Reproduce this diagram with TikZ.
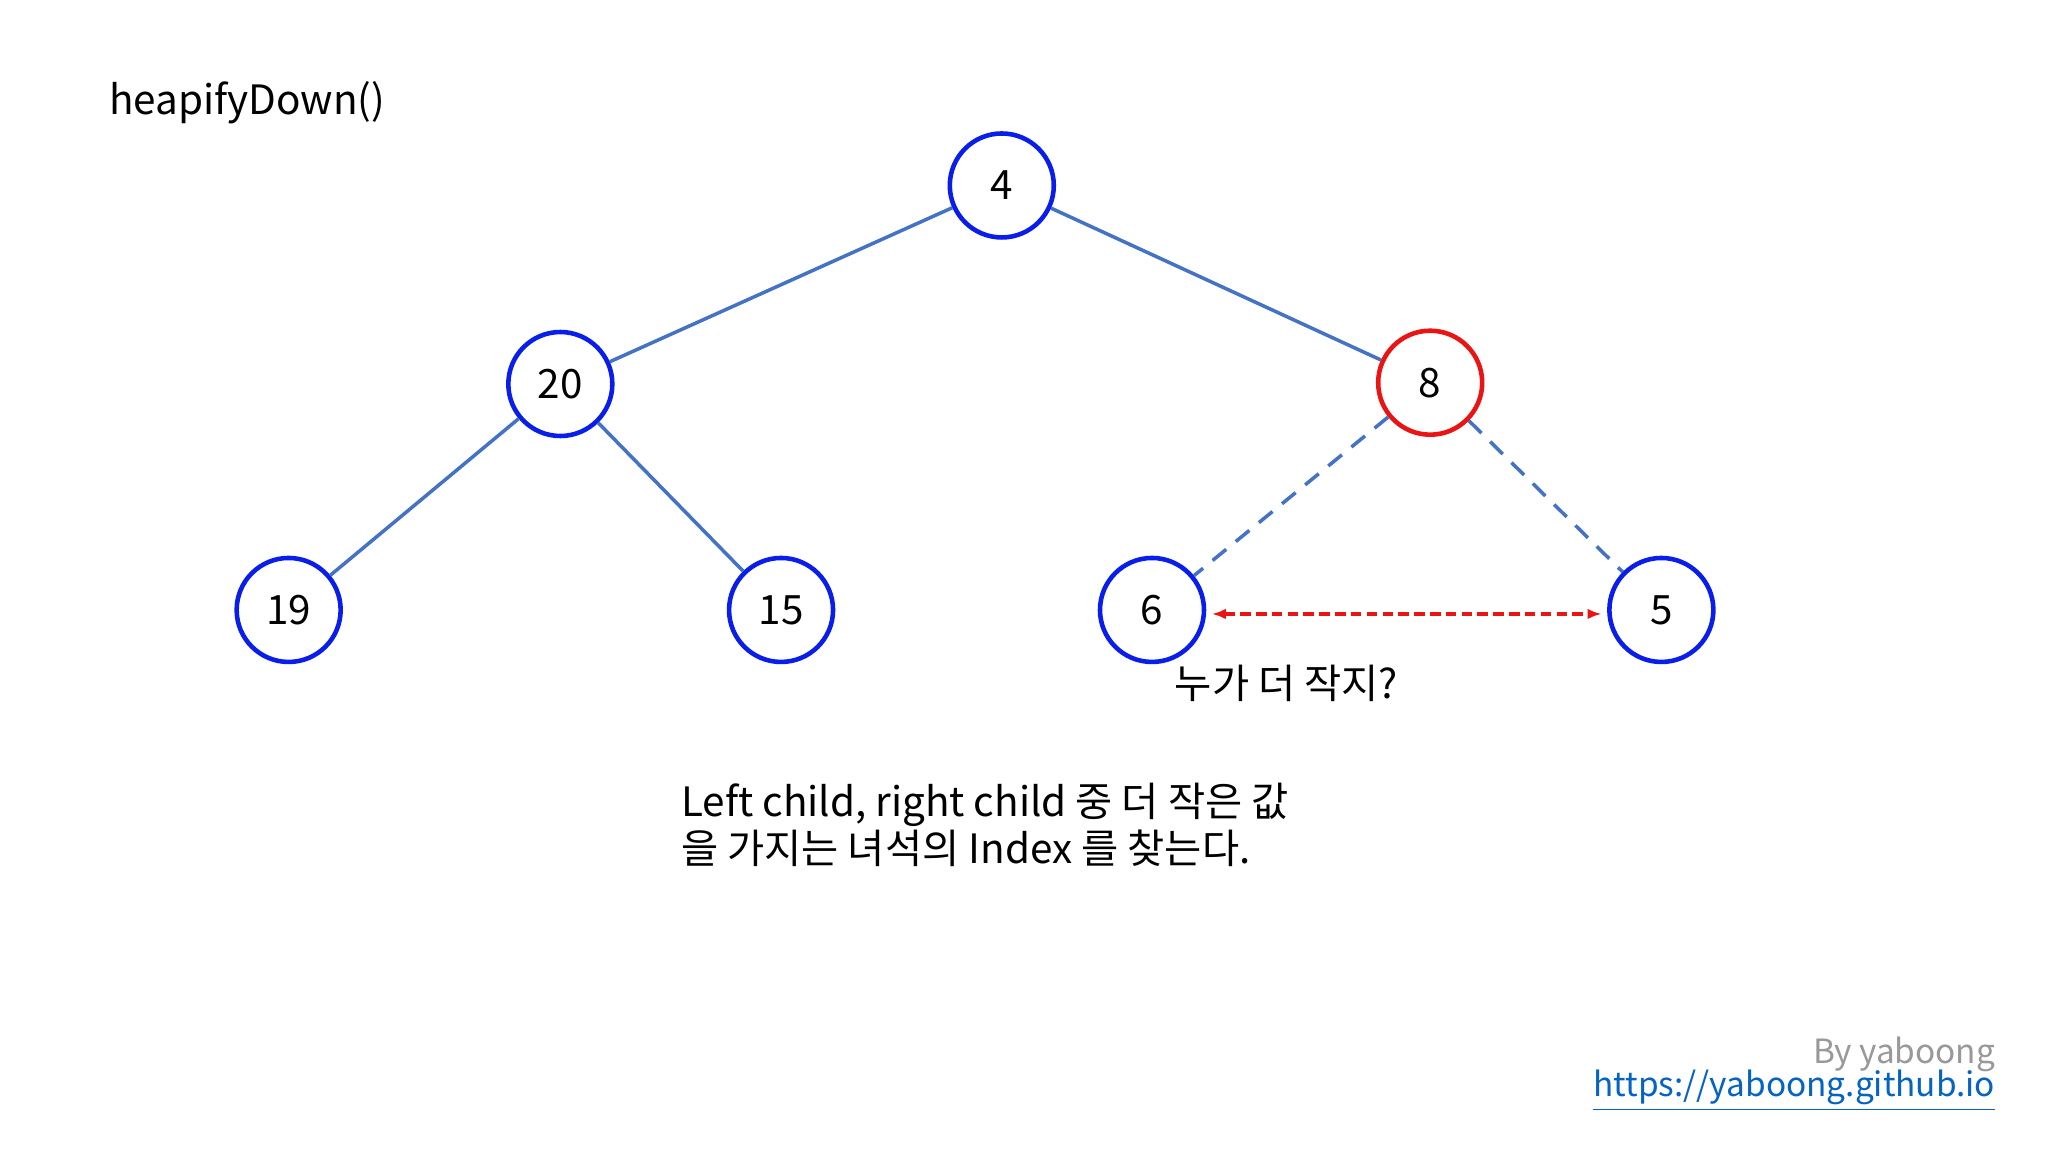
\documentclass[tikz,border=0pt]{standalone}
\usepackage{fontspec}
\setmainfont{Noto Sans CJK KR}
\usetikzlibrary{arrows.meta}
\definecolor{nodeblue}{RGB}{10,30,235}
\definecolor{edgeblue}{RGB}{68,114,196}
\definecolor{nodered}{RGB}{235,20,20}
\definecolor{linkblue}{RGB}{5,99,193}
\tikzset{
  hnode/.style={circle,draw=nodeblue,line width=1.3pt,minimum size=1.04cm,inner sep=0pt,font=\fontsize{11.5}{13}\selectfont},
  redn/.style={hnode,draw=nodered},
  edge/.style={draw=edgeblue,line width=1pt},
  dedge/.style={edge,dash pattern=on 5pt off 3.5pt},
}
\begin{document}
\begin{tikzpicture}[x=0.01306cm,y=-0.01306cm]
\useasboundingbox[fill=white] (0,0) rectangle (1568,882);
\node[anchor=west,font=\fontsize{11.5}{13}\selectfont] (title) at (74,79) {heapifyDown()};
\node[hnode] (n4) at (767,142) {4};
\node[hnode] (n20) at (429,294) {20};
\node[redn] (n8) at (1095,293) {8};
\node[hnode] (n19) at (221,467) {19};
\node[hnode] (n15) at (598,467) {15};
\node[hnode] (n6) at (882,467) {6};
\node[hnode] (n5) at (1272,467) {5};
\draw[edge] (n4) -- (n20);
\draw[edge] (n4) -- (n8);
\draw[edge] (n20) -- (n19);
\draw[edge] (n20) -- (n15);
\draw[dedge] (n8) -- (n6);
\draw[dedge] (n8) -- (n5);
\draw[nodered,line width=0.9pt,dash pattern=on 3pt off 1.5pt,{Latex[length=4pt]}-{Latex[length=4pt]},shorten <=17pt,shorten >=17pt] ([yshift=-0.04cm]n6.center) -- ([yshift=-0.04cm]n5.center);
\node[font=\fontsize{11.5}{13}\selectfont] (q) at (985,523) {누가 더 작지?};
\node[anchor=north west,align=left,font=\fontsize{11.5}{13.4}\selectfont] (desc) at (512,590) {Left child, right child 중 더 작은 값\\을 가지는 녀석의 Index 를 찾는다.};
\node[anchor=east,text=gray!80,font=\fontsize{9.5}{11}\selectfont] (by) at (1537,807) {By yaboong};
\node[anchor=east,text=linkblue,font=\fontsize{9.5}{11}\selectfont] (link) at (1537,835) {\underline{https://yaboong.github.io}};
\end{tikzpicture}
\end{document}
